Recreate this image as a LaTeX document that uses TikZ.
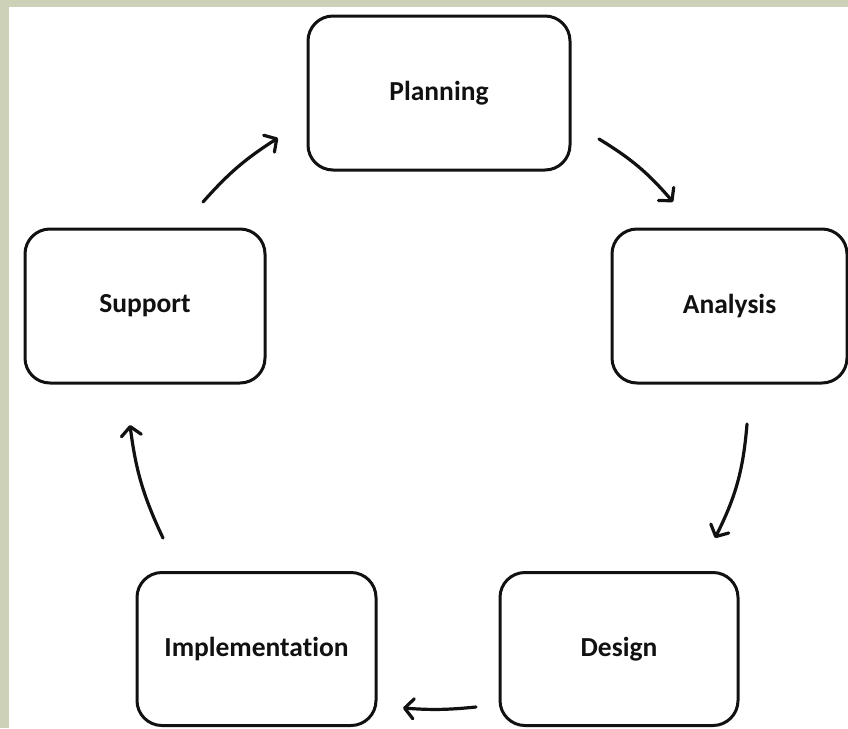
\documentclass[tikz,border=0pt]{standalone}
\usepackage{fontspec}
\setmainfont[Ligatures={NoCommon}]{Carlito}
\usetikzlibrary{arrows.meta}
\definecolor{frame}{HTML}{CCD1B8}
\definecolor{ink}{HTML}{111111}
\tikzset{
  box/.style={draw=ink, line width=3pt, rounded corners=25pt, fill=white,
    minimum height=154pt, inner sep=0pt, text=ink,
    font=\fontsize{27.5}{32}\selectfont\bfseries},
  flow/.style={draw=ink, line width=3.2pt, line cap=round,
    -{Straight Barb[length=9pt,width=20pt,line cap=round,line join=round]}}
}
\begin{document}
\begin{tikzpicture}[x=1pt,y=-1pt]
\fill[frame] (0,0) rectangle (848,728);
\fill[white] (9,7) rectangle (848,728);
\useasboundingbox (0,0) rectangle (848,728);

\node[box, minimum width=262pt] (plan) at (439,93) {Planning};
\node[box, minimum width=240pt] (supp) at (145,306) {Support};
\node[box, minimum width=235pt] (ana)  at (729.5,306) {Analysis};
\node[box, minimum width=239pt, minimum height=153pt] (impl) at (256.5,649) {Implementation};
\node[box, minimum width=238pt, minimum height=153pt] (des)  at (619,649) {Design};

\coordinate (a1s) at (599,139);
\coordinate (a1e) at (673,202);
\coordinate (a2s) at (747,424);
\coordinate (a2e) at (715,538);
\coordinate (a3s) at (476,707);
\coordinate (a3e) at (403,708);
\coordinate (a4s) at (163,538);
\coordinate (a4e) at (130,425);
\coordinate (a5s) at (203,202);
\coordinate (a5e) at (278,138);

\draw[flow] (a1s) to[bend left=9] (a1e);
\draw[flow] (a2s) to[bend left=11] (a2e);
\draw[flow] (a3s) to[bend left=5] (a3e);
\draw[flow] (a4s) to[bend left=9] (a4e);
\draw[flow] (a5s) to[bend left=8] (a5e);
\end{tikzpicture}
\end{document}
